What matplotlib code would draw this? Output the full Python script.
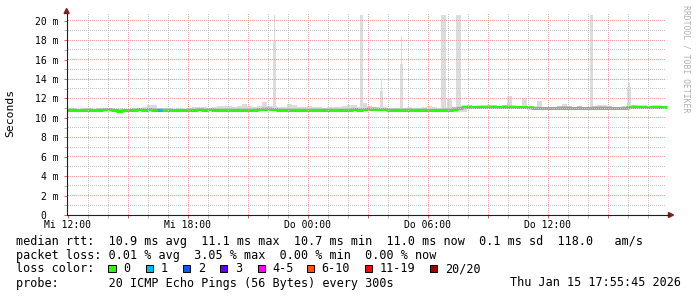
import numpy as np
import matplotlib
matplotlib.use("Agg")
import matplotlib.pyplot as plt
from matplotlib.patches import Rectangle, Polygon
from matplotlib.ticker import MultipleLocator, FuncFormatter
from matplotlib.colors import to_rgba

# ---------------- data ----------------
# time in hours relative to Wed 12:00 ; 15-minute slots starting 11:55:45
t_start = -0.07
slot_h = 0.25
t_end = 29.93

median_ms = [
    10.86, 10.84,
    10.80, 10.80, 10.81, 10.80,
    10.86, 10.87, 10.87, 10.78,
    10.76, 10.77, 10.79,
    10.86, 10.87, 10.86, 10.88, 10.86, 10.83,
    10.80, 10.80, 10.82, 10.79, 10.80, 10.81, 10.86,
    10.87, 10.86, 10.87, 10.85,
    10.84, 10.82, 10.83, 10.84, 10.82, 10.85, 10.83, 10.84, 10.88,
    10.93, 10.92, 10.88, 10.84,
    10.83, 10.82, 10.84, 10.82, 10.83, 10.84,
    10.85, 10.86, 10.84, 10.85, 10.86, 10.85, 10.86, 10.85, 10.87, 10.86,
    10.88, 10.90, 10.90, 10.88, 10.89, 10.86,
    10.82, 10.81, 10.80, 10.82, 10.81, 10.80, 10.81,
    10.78, 10.77, 10.77, 10.80, 10.80,
    10.92, 10.98,
    11.10, 11.11, 11.10, 11.09, 11.10, 11.11, 11.12, 11.10, 11.11, 11.13, 11.10, 11.09, 11.10, 11.08,
    11.00, 10.98, 11.01, 10.99,
    11.03, 11.04, 11.02, 11.03, 11.05, 11.02, 11.03, 11.04, 11.02, 11.03, 11.04, 11.02,
    10.98, 10.97, 10.99,
    11.08, 11.12, 11.10,
    11.08, 11.07, 11.08, 11.08, 11.08,
]

smoke_hi_ms = [
    11.00, 11.00,
    10.95, 11.05, 11.05, 10.95,
    11.00, 11.00, 11.05, 10.95,
    11.00, 10.90, 10.95,
    11.00, 11.05, 11.10, 11.35, 11.30, 11.05,
    11.00, 11.05, 10.95, 11.00, 10.95, 11.05, 11.10,
    11.10, 11.10, 11.05, 11.10,
    11.25, 11.20, 11.25, 11.15, 11.20, 11.45, 11.20, 11.15, 11.20,
    11.60, 11.25, 11.20, 11.15,
    11.10, 11.40, 11.35, 11.10, 11.15, 11.20,
    11.15, 11.10, 11.05, 11.10, 11.10, 11.15, 11.20, 11.35, 11.30, 11.10,
    11.55, 11.20, 11.15, 11.10, 11.10, 11.05,
    11.00, 11.05, 11.00, 11.10, 11.00, 11.05, 11.10,
    11.20, 11.15, 11.00, 11.10, 11.90,
    11.10, 11.25,
    11.30, 11.30, 11.25, 11.30, 11.35, 11.30, 11.30, 11.25, 11.30, 12.30, 11.30, 11.25, 12.00, 11.20,
    11.20, 11.70, 11.15, 11.10,
    11.15, 11.20, 11.40, 11.20, 11.15, 11.20, 11.15, 11.10, 11.20, 11.30, 11.30, 11.25,
    11.15, 11.10, 11.20,
    11.30, 11.30, 11.30,
    11.30, 11.25, 11.30, 11.30, 11.25,
]

# hourly lower edge of the smoke
smoke_lo_ms = [10.70, 10.65, 10.60, 10.70, 10.65, 10.65, 10.70, 10.70, 10.65, 10.70,
               10.70, 10.65, 10.70, 10.70, 10.70, 10.75, 10.65, 10.65, 10.60, 10.60,
               10.90, 10.90, 10.90, 10.80, 10.85, 10.85, 10.85, 10.80, 10.90, 10.90]

# narrow smoke spikes
spike_t = [10.33, 14.67, 15.67, 16.67, 18.75, 19.50, 26.17, 28.05]
spike_top = [20.6, 20.6, 13.9, 18.4, 20.6, 20.6, 20.6, 13.6]
spike_mid = [17.9, 20.6, 12.8, 15.6, 20.6, 20.6, 20.6, 13.2]
spike_samples = [2, 2, 2, 2, 3, 3, 2, 2]   # 5-minute samples wide

# packet loss events (slot index, lost pings)
loss_slot = [18]
loss_count = [1]

loss_labels = ["0", "1", "2", "3", "4-5", "6-10", "11-19", "20/20"]
loss_colors = ["#26ff00", "#00b8ff", "#0059ff", "#5e00ff", "#ff00ff",
               "#ff5500", "#ff0000", "#a10000"]

x_tick_h = [0, 6, 12, 18, 24]
x_tick_labels = ["Mi 12:00", "Mi 18:00", "Do 00:00", "Do 06:00", "Do 12:00"]
y_max = 20.8

legend_lines = [
    "median rtt:  10.9 ms avg  11.1 ms max  10.7 ms min  11.0 ms now  0.1 ms sd  118.0   am/s",
    "packet loss: 0.01 % avg  3.05 % max  0.00 % min  0.00 % now",
    "loss color:",
    "probe:       20 ICMP Echo Pings (56 Bytes) every 300s",
]
timestamp = "Thu Jan 15 17:55:45 2026"
watermark = "RRDTOOL / TOBI OETIKER"

# ---------------- figure ----------------
W, H = 697, 297
fig = plt.figure(figsize=(W / 100, H / 100), dpi=100)
fig.patch.set_facecolor("white")
MONO = "DejaVu Sans Mono"

px0, px1 = 66.6, 666.6
py0, py1 = 215.0, 13.0
ax = fig.add_axes([px0 / W, 1 - py0 / H, (px1 - px0) / W, (py0 - py1) / H])
ax.set_facecolor("none")
ax.set_xlim(t_start, t_end)
ax.set_ylim(0, y_max)

n = len(median_ms)
edges = t_start + slot_h * np.arange(n + 1)
med = np.array(median_ms)
hi = np.array(smoke_hi_ms)
lo = np.repeat(np.array(smoke_lo_ms), 4)[:n]

def ext(a):
    return np.append(a, a[-1])

# smoke
ax.fill_between(edges, ext(lo), ext(hi), step="post", color="#dcdcdc", lw=0, zorder=2)
ax.fill_between(edges, ext(med - 0.1), ext(np.minimum(hi, med + 0.17)), step="post",
                color="#c4c4c4", lw=0, zorder=2.1)

# spikes
for t, top, mid, ns in zip(spike_t, spike_top, spike_mid, spike_samples):
    idx = int((t - t_start) // slot_h)
    base = med[idx]
    w = ns * 5 / 60
    ax.bar(t, mid - base, bottom=base, width=w, color="#dcdcdc", lw=0, zorder=2)
    if top > mid:
        ax.bar(t, top - mid, bottom=mid, width=w * 0.5, color="#dcdcdc", lw=0, zorder=2)

# median line
ax.plot(edges, ext(med), drawstyle="steps-post", color=loss_colors[0], lw=2.2,
        solid_capstyle="butt", zorder=3)
for s, c in zip(loss_slot, loss_count):
    ax.plot([edges[s], edges[s + 1]], [med[s], med[s]], color=loss_colors[c], lw=2.2,
            solid_capstyle="butt", zorder=3.5)

# ticks / labels
ax.xaxis.set_major_locator(MultipleLocator(3))
ax.xaxis.set_minor_locator(MultipleLocator(1))
ax.yaxis.set_major_locator(MultipleLocator(2))
ax.yaxis.set_minor_locator(MultipleLocator(1))

def xfmt(v, pos):
    for h, lab in zip(x_tick_h, x_tick_labels):
        if abs(v - h) < 1e-6:
            return lab
    return ""

def yfmt(v, pos):
    if abs(v) < 1e-6:
        return "0  "
    return "%d m" % round(v)

ax.xaxis.set_major_formatter(FuncFormatter(xfmt))
ax.yaxis.set_major_formatter(FuncFormatter(yfmt))
ax.tick_params(which="both", direction="out", length=2, width=0.72)
ax.tick_params(which="major", color="#c87070")
ax.tick_params(which="minor", color="#b8b8b8")
ax.tick_params(axis="x", which="major", pad=1.5, labelsize=7)
ax.tick_params(axis="y", which="major", pad=3.6, labelsize=7)
for lab in ax.get_xticklabels() + ax.get_yticklabels():
    lab.set_fontfamily(MONO)

for side in ["top", "right"]:
    ax.spines[side].set_visible(False)
for side in ["left", "bottom"]:
    ax.spines[side].set_color("#1f1f1f")
    ax.spines[side].set_linewidth(0.8)
    ax.spines[side].set_zorder(5)

# dotted grid rendered pixel-exact beneath the data
major_c = np.array(to_rgba("#e8a4a4"))
minor_c = np.array(to_rgba("#c6c6c6"))
grid = np.zeros((H, W, 4))
(dx0, dy0) = ax.transData.transform((t_start, 0))
(dx1, dy1) = ax.transData.transform((t_end, y_max))
c0, c1 = int(np.floor(dx0)), int(np.floor(dx1))
r_top, r_bot = H - 1 - int(np.floor(dy1)), H - 1 - int(np.floor(dy0))

def vline(xv, col):
    c = int(np.floor(ax.transData.transform((xv, 0))[0]))
    for r in range(r_top, r_bot):
        if r % 2 == 0:
            grid[r, c] = col

def hline(yv, col):
    r = H - 1 - int(np.floor(ax.transData.transform((0, yv))[1]))
    for c in range(c0 + 1, c1):
        if c % 2 == 0:
            grid[r, c] = col

for hv in np.arange(1, 30):
    vline(hv, major_c if hv % 3 == 0 else minor_c)
for yv in np.arange(1, 21):
    hline(yv, major_c if yv % 2 == 0 else minor_c)
fig.figimage(grid, 0, 0, origin="upper", zorder=0.5)

# axis extensions and arrows (pixel coordinates)
def P(x, y):
    return (x / W, 1 - y / H)

fig.add_artist(plt.Line2D([P(px1, 0)[0], P(669, 0)[0]], [P(0, py0)[1]] * 2,
                          color="#1f1f1f", lw=0.8, transform=fig.transFigure))
fig.add_artist(Polygon([P(64.1, 13.5), P(69.1, 13.5), P(66.6, 8.5)], closed=True,
                       color="#801f1f", transform=fig.transFigure))
fig.add_artist(Polygon([P(668.5, 212.5), P(668.5, 217.5), P(673.5, 215)], closed=True,
                       color="#801f1f", transform=fig.transFigure))

# y label
fig.text(10 / W, 1 - 113 / H, "Seconds", rotation=90, ha="center", va="center",
         fontsize=8.2, family=MONO, color="#000000")
# watermark
fig.text(686 / W, 1 - 5 / H, watermark, rotation=270, ha="center", va="top",
         fontsize=5.9, family=MONO, color="#b0b0b0")

# legend
fs = 8.5
ys = [241, 255, 269, 283]
for line, y in zip(legend_lines, ys):
    fig.text(16 / W, 1 - y / H, line, ha="left", va="center", fontsize=fs, family=MONO)

sq_x = [108.3, 145.7, 182.7, 219.7, 257.7, 306.7, 365.0, 430.0]
for xq, lab, col in zip(sq_x, loss_labels, loss_colors):
    fig.add_artist(Rectangle(P(xq, 272.3), 7.3 / W, 7.3 / H, facecolor=col,
                             edgecolor="#000000", lw=0.7, transform=fig.transFigure))
    fig.text((xq + 15) / W, 1 - 269 / H, lab, ha="left", va="center", fontsize=fs,
             family=MONO)

fig.text(681 / W, 1 - 283 / H, timestamp, ha="right", va="center", fontsize=fs, family=MONO)

fig.savefig("out.png", dpi=100, facecolor="white")
